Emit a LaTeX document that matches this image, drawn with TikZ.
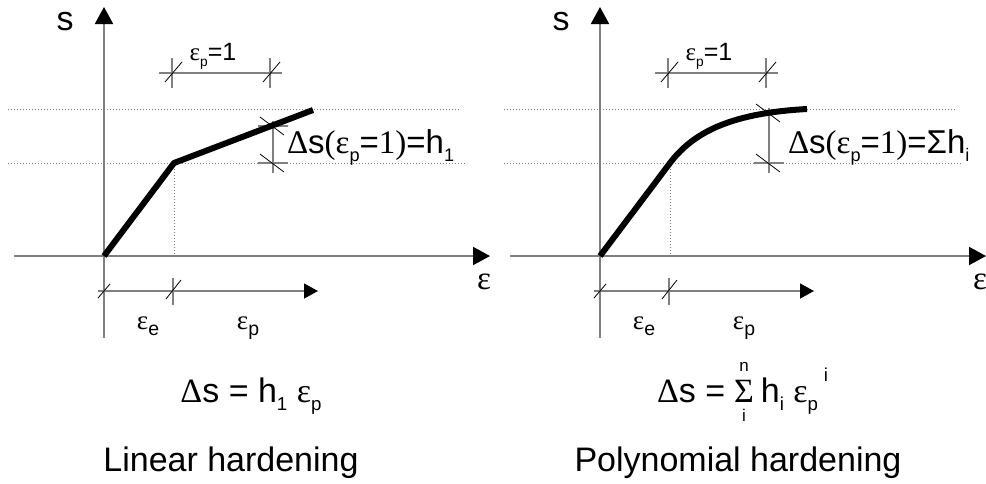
\documentclass[tikz,border=0pt]{standalone}
\usepackage{fontspec}
\setmainfont{Liberation Sans}
\newfontfamily\symf{Liberation Serif}
\usetikzlibrary{arrows.meta}
\definecolor{axisgray}{RGB}{128,128,128}
\newcommand\eps{{\symf ε}}
\newcommand\sbs[2][0.55]{\raisebox{-0.25em}{\scalebox{#1}{#2}}}
\newcommand\sps[2][0.55]{\raisebox{0.6em}{\scalebox{#1}{#2}}}
\newcommand\fs[1]{\fontsize{#1}{#1}\selectfont}
\newcommand\panelbase[1]{%
  \coordinate (#1-O) at (104,256);
  \coordinate (#1-vb) at (104,338);
  \coordinate (#1-vt) at (104,7);
  \coordinate (#1-hl) at (14,256);
  \coordinate (#1-hr) at (490,256);
  \coordinate (#1-K) at (174,163);
  \coordinate (#1-Kb) at (174,256);
  \coordinate (#1-d1a) at (8,109);
  \coordinate (#1-d1b) at (460,109);
  \coordinate (#1-d2a) at (8,163);
  \coordinate (#1-d2b) at (467,163);
  \coordinate (#1-ta) at (159,73);
  \coordinate (#1-tb) at (282,73);
  \coordinate (#1-ba) at (98,291);
  \coordinate (#1-bb) at (318,291);
  \draw[dots] (#1-d1a) -- (#1-d1b);
  \draw[dots] (#1-d2a) -- (#1-d2b);
  \draw[dots] (#1-K) -- (#1-Kb);
  \draw[axis,-{Triangle[width=18pt,length=17pt,color=black]}] (#1-vb) -- (#1-vt);
  \draw[axis,-{Triangle[width=18pt,length=17pt,color=black]}] (#1-hl) -- (#1-hr);
  % top dimension
  \draw[dimline] (#1-ta) -- (#1-tb);
  \foreach \t in {172,270}{
    \draw[dimline] (\t,58) -- (\t,88);
    \draw[slash] (\t-7,82) -- (\t+10,62);
  }
  % bottom dimension
  \draw[dimline,-{Triangle[width=15pt,length=14pt,color=black]}] (#1-ba) -- (#1-bb);
  \draw[dimline] (173,278) -- (173,305);
  \draw[slash] (98,298) -- (110,284);
  \draw[slash] (166,299) -- (181,280);
  % labels
  \node[lbl,font=\fs{34}] (#1-s) at (65,22) {s};
  \node[lbl,font=\fs{33}] (#1-eps) at (484,282) {\eps};
  \node[lbl,font=\fs{25},anchor=base] (#1-ep1) at (213,60) {\eps\sbs{p}=1};
  \node[lbl,font=\fs{27},anchor=base] (#1-ee) at (148,329) {\eps\sbs[0.72]{e}};
  \node[lbl,font=\fs{27},anchor=base] (#1-epp) at (248,329) {\eps\sbs[0.72]{p}};
}
\newcommand\rightdim[2]{% #1 prefix, #2 top y
  \coordinate (#1-rt) at (273,#2-5);
  \coordinate (#1-rb) at (273,173);
  \draw[dimline] (#1-rt) -- (#1-rb);
  \foreach \yy in {#2,163}{
    \draw[dimline] (258,\yy) -- (288,\yy);
    \draw[slash] (260,\yy-9) -- (284,\yy+9);
  }
}
\begin{document}
\begin{tikzpicture}[x=1pt,y=-1pt,
  axis/.style={draw=axisgray,line width=2pt},
  dots/.style={draw=axisgray,line width=0.9pt,dash pattern=on 0.9pt off 2.1pt},
  dimline/.style={draw=axisgray,line width=1.3pt},
  slash/.style={draw=black,line width=0.8pt},
  curvestyle/.style={draw=black,line width=6pt,line join=round},
  lbl/.style={inner sep=0pt,outer sep=0pt}]
\useasboundingbox[fill=white] (0,0) rectangle (986,483);
% ---------- left panel
\begin{scope}
  \panelbase{L}
  \rightdim{L}{126}
  \coordinate (L-E) at (313,110);
  \draw[curvestyle] (L-O) -- (L-K) -- (L-E);
  \node[lbl,font=\fs{33},anchor=base west] (L-ds) at (287,153)
    {{\symf Δ}s{\symf (}\eps\sbs{p}={\symf 1)}=h\sbs{1}};
  \node[lbl,font=\fs{34},anchor=base] (L-f) at (251,402)
    {{\symf Δ}s = h\sbs{1} \eps\sbs{p}};
  \node[lbl,font=\fs{34},anchor=base] (L-t) at (231,471) {Linear hardening};
\end{scope}
% ---------- right panel
\begin{scope}[xshift=496pt]
  \panelbase{R}
  \rightdim{R}{113}
  \coordinate (R-E) at (311,109);
  \draw[curvestyle] (R-O) -- (R-K) .. controls (199,130) and (239,113) .. (R-E);
  \node[lbl,font=\fs{33},anchor=base west] (R-ds) at (292,153)
    {{\symf Δ}s{\symf (}\eps\sbs{p}={\symf 1)}=Σh\sbs{i}};
  \node[lbl,font=\fs{34},anchor=base west] (R-f1) at (161,402) {{\symf Δ}s =};
  \node[lbl,font=\fs{34}\symf,anchor=base west] (R-sig) at ([xshift=9pt]R-f1.base east) {Σ};
  \node[lbl,font=\fs{17},anchor=base] (R-n) at ([yshift=8pt]R-sig.north) {n};
  \node[lbl,font=\fs{17},anchor=north] (R-i) at ([yshift=-7pt]R-sig.south) {i};
  \node[lbl,font=\fs{34},anchor=base west] (R-f2) at ([xshift=7pt]R-sig.base east)
    {h\sbs{i} \eps\sbs{p}\,\sps{i}};
  \node[lbl,font=\fs{34},anchor=base] (R-t) at (242,471) {Polynomial hardening};
\end{scope}
\end{tikzpicture}
\end{document}
